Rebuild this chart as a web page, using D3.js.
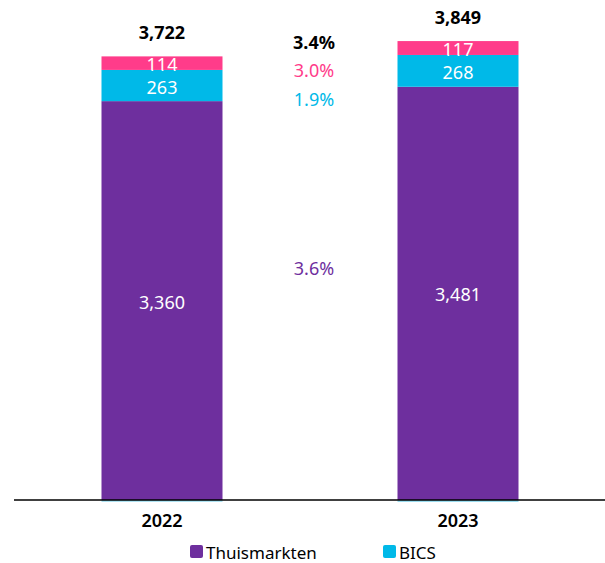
<!DOCTYPE html>
<html>
<head>
<meta charset="utf-8">
<script src="https://cdn.jsdelivr.net/npm/d3@7"></script>
<style>
  html, body { margin: 0; padding: 0; background: #fff; }
  svg { display: block; font-family: "Noto Sans", "Open Sans", sans-serif; }
</style>
</head>
<body>
<svg id="chart" width="605" height="563"></svg>
<script>
// ---- data ----
const years = ["2022", "2023"];
const thuismarkten = [3360, 3481];
const bics = [263, 268];
const other = [114, 117];
const eliminations = [-15, -17];
const totals = [3722, 3849];
const growthLabels = ["3.4%", "3.0%", "1.9%", "3.6%"];
const legendLabels = ["Thuismarkten", "BICS"];

// ---- styles ----
const colors = {
  thuismarkten: "#6E2F9E",
  bics: "#00B9E8",
  other: "#FF3C8A",
  eliminations: "#9ADCEF"
};

const svg = d3.select("#chart");
const W = 605;
const axisY = 500;

const x = d3.scaleBand().domain(years).range([14, 606]).padding(0);
const barW = 121;
const y = d3.scaleLinear().domain([0, 4212]).range([axisY, 0]);

const rows = years.map((yr, i) => ({
  year: yr,
  thuismarkten: thuismarkten[i],
  bics: bics[i],
  other: other[i],
  eliminations: eliminations[i],
  total: totals[i]
}));

const keys = ["thuismarkten", "bics", "other"];
const stack = d3.stack().keys(keys)(rows);

const cx = d => x(d.data.year) + x.bandwidth() / 2;

// positive stacked segments
stack.forEach(layer => {
  const g = svg.append("g");
  g.selectAll("rect").data(layer).join("rect")
    .attr("x", d => cx(d) - barW / 2)
    .attr("width", barW)
    .attr("y", d => y(d[1]))
    .attr("height", d => y(d[0]) - y(d[1]))
    .attr("fill", colors[layer.key]);
  g.selectAll("text").data(layer).join("text")
    .attr("x", d => cx(d))
    .attr("y", d => (y(d[0]) + y(d[1])) / 2 + 1)
    .attr("text-anchor", "middle")
    .attr("dominant-baseline", "central")
    .attr("fill", "#fff")
    .attr("font-size", 18)
    .text(d => d3.format(",")(d[1] - d[0]));
});

// eliminations (negative, below axis)
svg.append("g").selectAll("rect").data(rows).join("rect")
  .attr("x", d => x(d.year) + x.bandwidth() / 2 - barW / 2)
  .attr("width", barW)
  .attr("y", y(0))
  .attr("height", d => y(d.eliminations) - y(0))
  .attr("fill", colors.eliminations);

// totals
svg.append("g").selectAll("text").data(rows).join("text")
  .attr("x", d => x(d.year) + x.bandwidth() / 2)
  .attr("y", d => y(d.thuismarkten + d.bics + d.other) - 24)
  .attr("text-anchor", "middle")
  .attr("dominant-baseline", "central")
  .attr("font-size", 18)
  .attr("font-weight", "bold")
  .attr("fill", "#000")
  .text(d => d3.format(",")(d.total));

// axis line
const xAxis = d3.axisBottom(x).tickSize(0).tickPadding(14);
const ax = svg.append("g").attr("transform", `translate(0,${axisY})`).call(xAxis);
ax.select(".domain").attr("stroke", "#000").attr("stroke-width", 1.6).attr("d", `M14,0H${W}`);
ax.selectAll(".tick text")
  .attr("font-size", 18)
  .attr("font-weight", 600)
  .attr("fill", "#000")
  .attr("font-family", "Noto Sans, sans-serif");

// growth labels in the middle column
const midX = (x(years[0]) + x(years[1]) + x.bandwidth()) / 2 + 4;
const growthStyle = [
  { color: "#000", weight: "bold", yPos: 42 },
  { color: colors.other, weight: "normal", yPos: 70 },
  { color: colors.bics, weight: "normal", yPos: 99 },
  { color: colors.thuismarkten, weight: "normal", yPos: 268 }
];
svg.append("g").selectAll("text").data(growthLabels).join("text")
  .attr("x", midX)
  .attr("y", (d, i) => growthStyle[i].yPos)
  .attr("text-anchor", "middle")
  .attr("dominant-baseline", "central")
  .attr("font-size", 18)
  .attr("font-weight", (d, i) => growthStyle[i].weight)
  .attr("fill", (d, i) => growthStyle[i].color)
  .text(d => d);

// legend
const legendColors = [colors.thuismarkten, colors.bics];
const legendX = [190, 383];
const lg = svg.append("g").selectAll("g").data(legendLabels).join("g")
  .attr("transform", (d, i) => `translate(${legendX[i]},545)`);
lg.append("rect").attr("width", 13).attr("height", 13).attr("rx", 2)
  .attr("fill", (d, i) => legendColors[i]);
lg.append("text").attr("x", 16).attr("y", 7).attr("dominant-baseline", "central")
  .attr("font-size", 17).attr("fill", "#000").text(d => d);
</script>
</body>
</html>
